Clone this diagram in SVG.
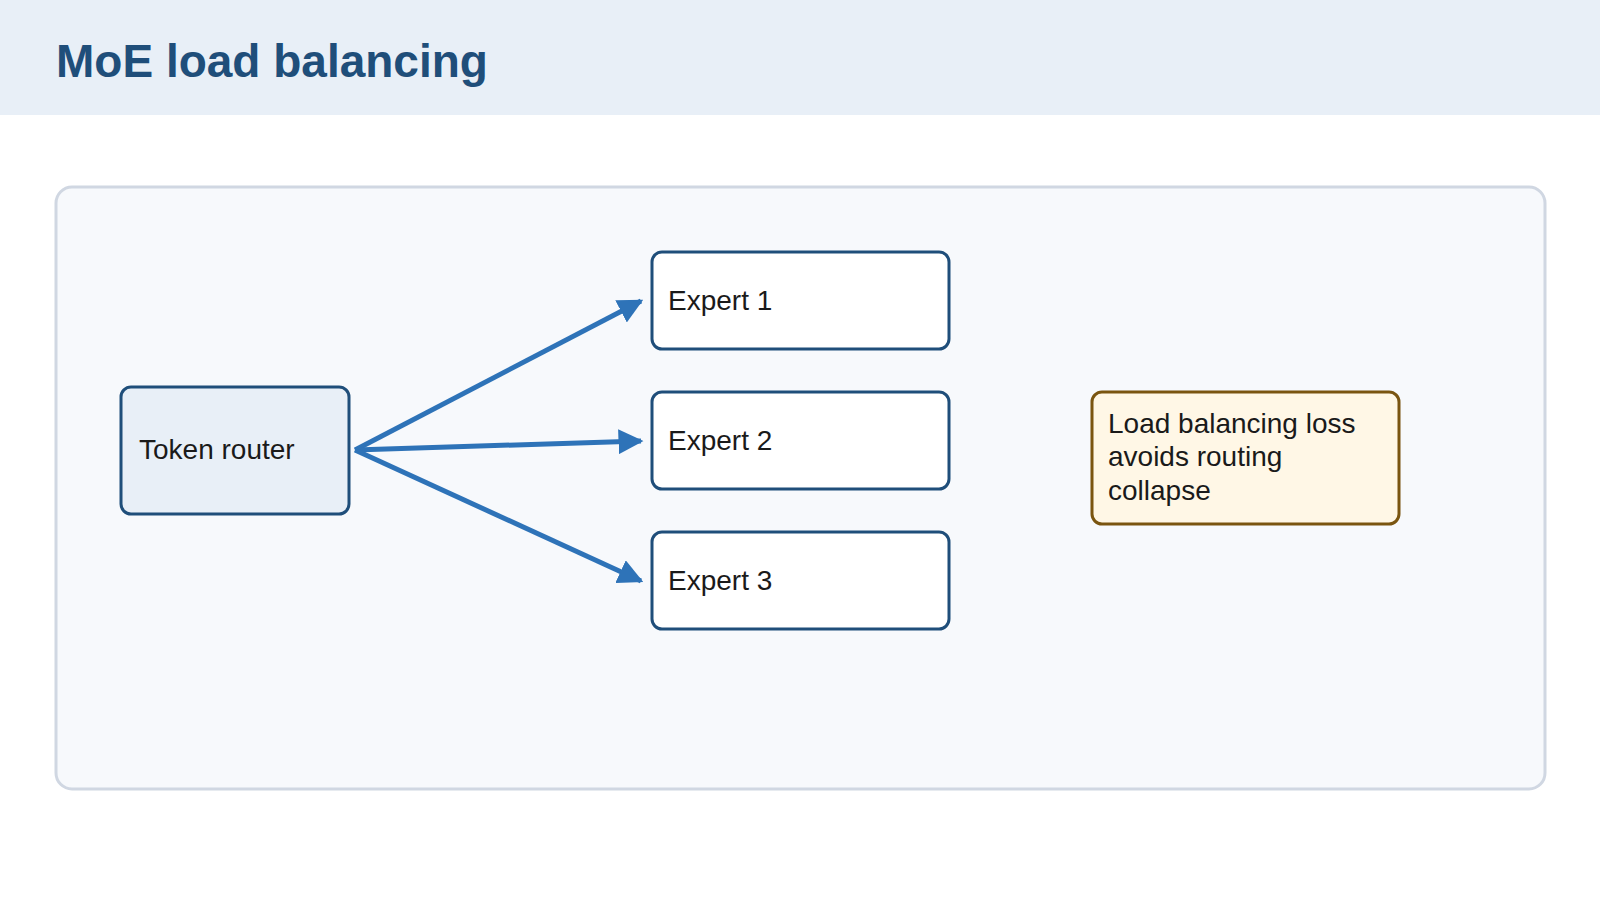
<svg xmlns="http://www.w3.org/2000/svg" width="1600" height="900" viewBox="0 0 1600 900">
<style>
text{font-family:"Liberation Sans",Arial,sans-serif;fill:#1a1a1a;font-size:28px}
.box{fill:#fff;stroke:#1f4e7a;stroke-width:3}
.edge{stroke:#2e73b8;stroke-width:5;fill:none}
</style>
<defs><marker id="ah" viewBox="0 0 10 10" refX="9" refY="5" markerWidth="5" markerHeight="5" markerUnits="strokeWidth" orient="auto"><path d="M0,0L10,5L0,10z" fill="#2e73b8"/></marker></defs>
<rect x="0" y="0" width="1600" height="115" fill="#e8eff7"/>
<text x="56" y="77" style="font-size:46px;font-weight:bold;fill:#1f4e7a">MoE load balancing</text>
<rect x="56" y="187" width="1489" height="602" rx="16" fill="#f7f9fc" stroke="#d0d7e2" stroke-width="3"/>
<g id="connectors">
<path class="edge" d="M355 450L641 301" marker-end="url(#ah)"/>
<path class="edge" d="M355 450L641 441" marker-end="url(#ah)"/>
<path class="edge" d="M355 450L641 581" marker-end="url(#ah)"/>
</g>
<g id="router"><rect x="121" y="387" width="228" height="127" rx="10" class="box" style="fill:#e8eff7"/><text x="139" y="459">Token router</text></g>
<g id="e1"><rect x="652" y="252" width="297" height="97" rx="10" class="box"/><text x="668" y="310">Expert 1</text></g>
<g id="e2"><rect x="652" y="392" width="297" height="97" rx="10" class="box"/><text x="668" y="450">Expert 2</text></g>
<g id="e3"><rect x="652" y="532" width="297" height="97" rx="10" class="box"/><text x="668" y="590">Expert 3</text></g>
<g id="note"><rect x="1092" y="392" width="307" height="132" rx="10" fill="#fff7e6" stroke="#7a5510" stroke-width="3"/>
<text x="1108" y="433">Load balancing loss</text><text x="1108" y="466">avoids routing</text><text x="1108" y="500">collapse</text></g>
</svg>
